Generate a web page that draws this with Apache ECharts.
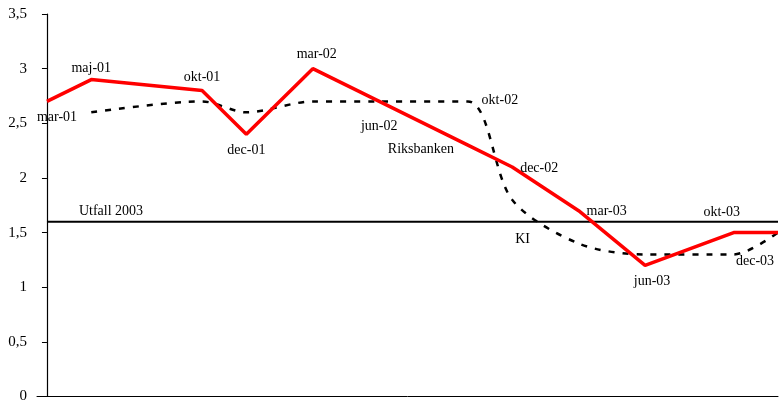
<!DOCTYPE html>
<html>
<head>
<meta charset="utf-8">
<script src="https://cdn.jsdelivr.net/npm/echarts@6/dist/echarts.min.js"></script>
<style>
  html, body { margin: 0; padding: 0; background: #fff; }
  #chart { width: 780px; height: 404px; }
</style>
</head>
<body>
<div id="chart"></div>
<script>
// Monthly time line, mars 2001 - december 2003
const monthNames = ['jan', 'feb', 'mar', 'apr', 'maj', 'jun', 'jul', 'aug', 'sep', 'okt', 'nov', 'dec'];
const months = [];
for (let y = 1; y <= 3; y++) {
  for (let m = 0; m < 12; m++) {
    if (y === 1 && m < 2) continue;
    months.push(monthNames[m] + '-0' + y);
  }
}

// Riksbanken forecasts for 2003 inflation, by forecast date
const riksbankenMonths = ['mar-01', 'maj-01', 'okt-01', 'dec-01', 'mar-02', 'jun-02', 'okt-02', 'dec-02', 'mar-03', 'jun-03', 'okt-03', 'dec-03'];
const riksbankenValues = [2.7, 2.9, 2.8, 2.4, 3.0, 2.7, 2.3, 2.1, 1.7, 1.2, 1.5, 1.5];

// KI forecasts for 2003 inflation
const kiMonths = ['maj-01', 'okt-01', 'dec-01', 'mar-02', 'jun-02', 'okt-02', 'dec-02', 'mar-03', 'jun-03', 'okt-03', 'dec-03'];
const kiValues = [2.6, 2.7, 2.6, 2.7, 2.7, 2.7, 1.8, 1.4, 1.3, 1.3, 1.5];

// Outcome 2003
const utfallMonths = ['mar-01', 'dec-03'];
const utfallValues = [1.6, 1.6];

// Y axis
const yMin = 0, yMax = 3.5, yStep = 0.5;

// Text annotations placed next to points: text plus pixel offset from the point
const riksbankenLabels = {
  'mar-01': ['mar-01', 10, 16],
  'maj-01': ['maj-01', 0, -11],
  'okt-01': ['okt-01', 0, -13],
  'dec-01': ['dec-01', 0, 16],
  'mar-02': ['mar-02', 4, -14],
  'jun-02': ['jun-02', 0, 25],
  'okt-02': ['Riksbanken', -47, 4],
  'dec-02': ['dec-02', 27, 1],
  'mar-03': ['mar-03', 28, 1],
  'jun-03': ['jun-03', 7, 16],
  'okt-03': ['okt-03', -12, -20]
};
const kiLabels = {
  'okt-02': ['okt-02', 32, -1],
  'mar-03': ['KI', -56, -4],
  'dec-03': ['dec-03', -23, 29]
};
const utfallLabels = {
  'mar-01': ['Utfall 2003', 64, -10]
};

const font = 'Liberation Serif, Times New Roman, serif';

function buildData(monthList, values, labels) {
  return monthList.map((m, i) => {
    const item = { value: [months.indexOf(m), values[i]] };
    const l = labels[m];
    if (l) {
      item.label = {
        show: true,
        formatter: l[0],
        position: 'inside',
        offset: [l[1], l[2]],
        color: '#000',
        fontFamily: font,
        fontSize: 14,
        align: 'center',
        verticalAlign: 'middle'
      };
    } else {
      item.label = { show: false };
    }
    return item;
  });
}

const markerStyle = {
  symbol: 'circle',
  symbolSize: 1,
  itemStyle: { color: 'rgba(0,0,0,0)', borderWidth: 0 },
  emphasis: { disabled: true },
  silent: true
};

const chart = echarts.init(document.getElementById('chart'), null, { renderer: 'canvas' });
chart.setOption({
  animation: false,
  backgroundColor: '#fff',
  grid: { left: 37, right: 2, top: 14, bottom: 5, containLabel: false },
  xAxis: {
    type: 'value',
    min: -0.45,
    max: months.length - 1,
    axisLine: { show: true, lineStyle: { color: '#000', width: 1 } },
    axisTick: { show: false },
    axisLabel: { show: false },
    splitLine: { show: false }
  },
  yAxis: {
    type: 'value',
    min: yMin,
    max: yMax,
    interval: yStep,
    axisLine: { show: true, lineStyle: { color: '#000', width: 1.2 } },
    axisTick: { show: true, inside: false, length: 5, lineStyle: { color: '#000', width: 1 } },
    axisLabel: {
      color: '#000',
      fontFamily: font,
      fontSize: 15,
      margin: 10,
      formatter: v => String(v).replace('.', ',')
    },
    splitLine: { show: false }
  },
  series: [
    Object.assign({
      name: 'Utfall 2003',
      type: 'line',
      data: buildData(utfallMonths, utfallValues, utfallLabels),
      lineStyle: { color: '#000', width: 2 },
      z: 1
    }, markerStyle),
    Object.assign({
      name: 'KI',
      type: 'line',
      smooth: 0.3,
      data: buildData(kiMonths, kiValues, kiLabels),
      lineStyle: { color: '#000', width: 2.5, type: [6, 8] },
      z: 2
    }, markerStyle),
    Object.assign({
      name: 'Riksbanken',
      type: 'line',
      data: buildData(riksbankenMonths, riksbankenValues, riksbankenLabels),
      lineStyle: { color: '#ff0000', width: 3.5 },
      z: 3
    }, markerStyle)
  ]
});
</script>
</body>
</html>
